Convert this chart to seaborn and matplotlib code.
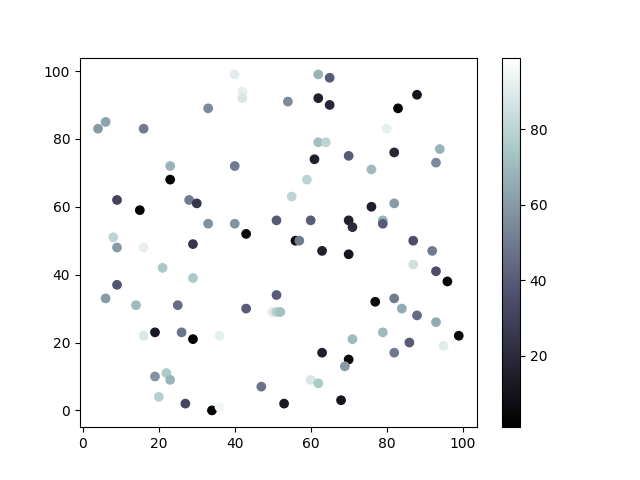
import matplotlib
matplotlib.use("Agg")
import matplotlib.pyplot as plt
import seaborn as sns
import pandas as pd
import numpy as np

x_vals = [4, 6, 16, 33, 40, 42, 42, 23, 23, 40, 9, 15, 28, 30, 33, 40, 43, 51, 8, 29,
          9, 16, 21, 29, 9, 6, 14, 25, 43, 51, 50, 51, 52, 16, 19, 26, 29, 36, 19, 22,
          23, 20, 27, 34, 36, 47, 53,
          62, 65, 54, 62, 65, 88, 83, 80, 90, 62, 64, 94, 93, 82, 70, 61, 76, 59, 55, 76,
          82, 60, 70, 71, 79, 79, 56, 57, 87, 63, 70, 92, 87, 93, 96, 77, 82, 84, 88, 93,
          99, 95, 86, 82, 79, 71, 63, 70, 69, 60, 62, 68]
y_vals = [83, 85, 83, 89, 99, 94, 92, 72, 68, 72, 62, 59, 62, 61, 55, 55, 52, 56, 51, 49,
          48, 48, 42, 39, 37, 33, 31, 31, 30, 34, 29, 29, 29, 22, 23, 23, 21, 22, 10, 11,
          9, 4, 2, 0, 1, 7, 2,
          99, 98, 91, 92, 90, 93, 89, 83, 84, 79, 79, 77, 73, 76, 75, 74, 71, 68, 63, 60,
          61, 56, 56, 54, 56, 55, 50, 50, 50, 47, 46, 47, 43, 41, 38, 32, 33, 30, 28, 26,
          22, 19, 20, 17, 23, 21, 17, 15, 13, 9, 8, 3]
c_vals = [60, 62, 50, 55, 90, 92, 88, 68, 2, 50, 30, 3, 50, 25, 57, 58, 3, 40, 80, 25,
          60, 92, 75, 75, 38, 60, 70, 45, 40, 40, 90, 78, 72, 88, 12, 48, 2, 92, 58, 76,
          68, 78, 32, 1, 95, 48, 12,
          68, 40, 55, 15, 18, 10, 3, 92, 99, 72, 80, 68, 55, 18, 40, 15, 70, 80, 80, 15,
          60, 40, 15, 20, 68, 40, 5, 50, 35, 15, 10, 50, 85, 35, 3, 5, 50, 65, 45, 65,
          5, 90, 40, 50, 70, 70, 15, 5, 60, 88, 75, 10]

df = pd.DataFrame({"x": x_vals, "y": y_vals, "c": c_vals})

fig, ax = plt.subplots(figsize=(6.4, 4.8), dpi=100)
vmin, vmax = min(c_vals), max(c_vals)
norm = matplotlib.colors.Normalize(vmin=vmin, vmax=vmax)
sns.scatterplot(data=df, x="x", y="y", hue="c", palette="bone", hue_norm=norm,
                s=36, edgecolor="face", linewidth=1.0, legend=False, ax=ax)
ax.set_xlabel("")
ax.set_ylabel("")
sm = matplotlib.cm.ScalarMappable(norm=norm, cmap="bone")
sm.set_array([])
fig.colorbar(sm, ax=ax)
fig.savefig("out.png", dpi=100)
